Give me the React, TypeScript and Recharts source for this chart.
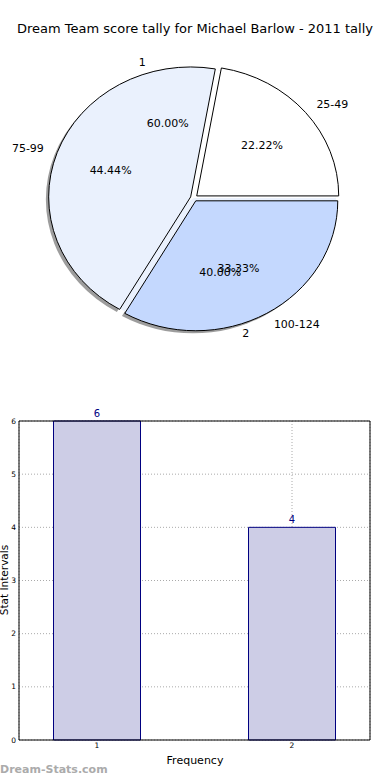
import React from "react";
import { PieChart, Pie, Cell, BarChart, Bar, XAxis, YAxis, CartesianGrid, ReferenceLine, LabelList } from "recharts";

// score brackets (outer pie)
const bracketNames = ["25-49", "75-99", "100-124"];
const bracketCounts = [2, 4, 3];
const bracketColors = ["#ffffff", "#eaf1fd", "#c4d8fe"];

// frequency pie drawn on top of it
const freqNames = ["1", "2"];
const freqCounts = [6, 4];

// bar chart below
const barCats = [1, 2];
const barValues = [6, 4];
const yTicks = [0, 1, 2, 3, 4, 5, 6];

const bracketData = bracketNames.map((name, i) => ({ name, value: bracketCounts[i] }));
const freqData = freqNames.map((name, i) => ({ name, value: freqCounts[i] }));
const barData = barCats.map((cat, i) => ({ cat, value: barValues[i] }));

const CX = 194;
const CY = 198;
const R = 142;
const K = 0.915; // pie is squashed vertically
const EXPLODE = 0.025;
const FONT = "'DejaVu Sans', sans-serif";

const rad = Math.PI / 180;

const wedgeStyle = (mid: number, explode: number, shiftX = 0, shiftY = 0) => {
  const dx = explode * R * Math.cos(mid * rad) + shiftX;
  const dy = -explode * R * K * Math.sin(mid * rad) + shiftY;
  return {
    transformOrigin: `${CX}px ${CY}px`,
    transform: `translate(${dx}px, ${dy}px) scale(1, ${K})`,
  };
};

const midAngles = (values: number[]) => {
  const total = values.reduce((a, b) => a + b, 0);
  let acc = 0;
  return values.map((v) => {
    const m = (acc + v / 2) / total * 360;
    acc += v;
    return m;
  });
};

const bracketMids = midAngles(bracketCounts);
const freqMids = midAngles(freqCounts);

const makeLabel = (explode: number) => (props: any) => {
  const { midAngle, percent, name } = props;
  const c = Math.cos(midAngle * rad);
  const s = Math.sin(midAngle * rad);
  const ox = CX + (1.1 + explode) * R * c;
  const oy = CY - (1.1 + explode) * R * K * s;
  const px = CX + (0.6 + explode) * R * c;
  const py = CY - (0.6 + explode) * R * K * s;
  return (
    <g>
      <text x={ox} y={oy} textAnchor={c >= 0 ? "start" : "end"} dominantBaseline="central"
        fontSize={11} fontFamily={FONT} fill="#000">{name}</text>
      <text x={px} y={py} textAnchor="middle" dominantBaseline="central"
        fontSize={11} fontFamily={FONT} fill="#000">{(percent * 100).toFixed(2)}%</text>
    </g>
  );
};

export default function App() {
  return (
    <div style={{ position: "absolute", left: 0, top: 0, width: 390, height: 780, background: "#fff", fontFamily: FONT, overflow: "hidden" }}>
      <div style={{ position: "absolute", left: 0, top: 21, width: 390, textAlign: "center", fontSize: 13, color: "#000" }}>
        Dream Team score tally for Michael Barlow - 2011 tally
      </div>
      <div style={{ position: "absolute", left: 0, top: 0 }}>
        <PieChart width={390} height={380} margin={{ top: 0, right: 0, bottom: 0, left: 0 }}>
          {/* shadow */}
          <Pie data={bracketData} dataKey="value" nameKey="name" cx={CX} cy={CY} outerRadius={R}
            startAngle={0} endAngle={360} stroke="none" isAnimationActive={false} labelLine={false}>
            {bracketData.map((d, i) => (
              <Cell key={d.name} fill="#4d4d4d" fillOpacity={0.55} style={wedgeStyle(bracketMids[i], EXPLODE, -2.8, 2.6)} />
            ))}
          </Pie>
          {/* frequency pie backdrop */}
          <Pie data={freqData} dataKey="value" nameKey="name" cx={CX} cy={CY} outerRadius={R}
            startAngle={0} endAngle={360} stroke="none" isAnimationActive={false} labelLine={false}>
            {freqData.map((d, i) => (
              <Cell key={d.name} fill={i === 0 ? "#ffffff" : "#eaf1fd"} style={wedgeStyle(freqMids[i], 0)} />
            ))}
          </Pie>
          <Pie data={bracketData} dataKey="value" nameKey="name" cx={CX} cy={CY} outerRadius={R}
            startAngle={0} endAngle={360} stroke="#000" strokeWidth={1} isAnimationActive={false}
            labelLine={false} label={makeLabel(EXPLODE)}>
            {bracketData.map((d, i) => (
              <Cell key={d.name} fill={bracketColors[i]} style={{ ...wedgeStyle(bracketMids[i], EXPLODE), vectorEffect: "non-scaling-stroke" } as any} />
            ))}
          </Pie>
          <Pie data={freqData} dataKey="value" nameKey="name" cx={CX} cy={CY} outerRadius={R}
            startAngle={0} endAngle={360} fill="none" stroke="none" isAnimationActive={false}
            labelLine={false} label={makeLabel(0)}>
            {freqData.map((d) => (
              <Cell key={d.name} fill="none" />
            ))}
          </Pie>
        </PieChart>
      </div>
      <div style={{ position: "absolute", left: 0, top: 400 }}>
        <BarChart width={390} height={380} data={barData} margin={{ top: 21, right: 20, bottom: 10, left: 0 }}>
          <XAxis dataKey="cat" type="number" domain={[0.6, 2.4]} ticks={barCats} height={30}
            axisLine={{ stroke: "#000" }} tickLine={false} tickSize={0} tickMargin={3}
            tick={{ fontSize: 7.5, fill: "#000", fontFamily: FONT }} allowDataOverflow />
          <YAxis type="number" domain={[0, 6]} ticks={yTicks} width={19}
            axisLine={{ stroke: "#000" }} tickLine={false} tickSize={0} tickMargin={3}
            tick={{ fontSize: 7.5, fill: "#000", fontFamily: FONT }} />
          <Bar dataKey="value" fill="#cdcde6" stroke="#000080" strokeWidth={1} barSize={87} isAnimationActive={false}>
            <LabelList dataKey="value" position="top" offset={4} fill="#000080" fontSize={10} fontFamily={FONT} />
          </Bar>
          <CartesianGrid stroke="#aaaaaa" strokeDasharray="1 2" />
          <ReferenceLine y={6} stroke="#000" strokeWidth={1} />
          <ReferenceLine x={2.4} stroke="#000" strokeWidth={1} />
        </BarChart>
      </div>
      <div style={{ position: "absolute", left: 0, top: 754, width: 390, textAlign: "center", fontSize: 11, color: "#000" }}>
        Frequency
      </div>
      <div style={{ position: "absolute", left: -32, top: 574, width: 72, textAlign: "center", fontSize: 10.5, color: "#000", transform: "rotate(-90deg)", whiteSpace: "nowrap" }}>
        Stat Intervals
      </div>
      <div style={{ position: "absolute", left: 0, top: 763, fontSize: 11, fontWeight: "bold", color: "#ababab" }}>
        Dream-Stats.com
      </div>
    </div>
  );
}
